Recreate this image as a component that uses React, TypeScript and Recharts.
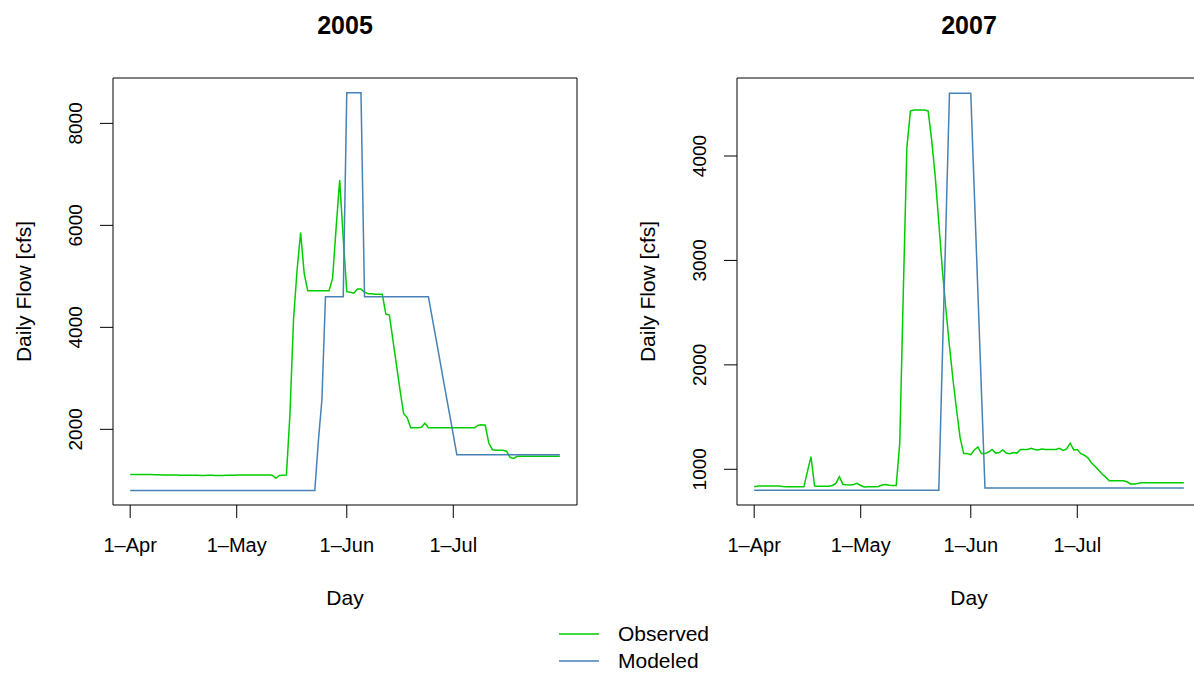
import React from "react";
import { LineChart, Line, XAxis, YAxis, ReferenceArea } from "recharts";

// day 0 = 1-Apr ... day 121 = 31-Jul
const TICK_DAYS = [0, 30, 61, 91];
const TICK_LABELS = ["1–Apr", "1–May", "1–Jun", "1–Jul"];

const OBS_2005 = [
  1115, 1115, 1115, 1115, 1115, 1115, 1115, 1110, 1110, 1105,
  1105, 1105, 1105, 1105, 1100, 1100, 1100, 1100, 1100, 1100,
  1095, 1095, 1100, 1100, 1095, 1095, 1095, 1100, 1100, 1100,
  1105, 1105, 1105, 1105, 1105, 1105, 1105, 1105, 1105, 1105,
  1100, 1040, 1095, 1100, 1105, 2300, 4150, 5120, 5860, 5060,
  4720, 4720, 4720, 4720, 4720, 4720, 4720, 4960, 5950, 6890,
  5750, 4700, 4690, 4670, 4750, 4750, 4690, 4660, 4660, 4650,
  4650, 4650, 4260, 4240, 3750, 3260, 2770, 2310, 2230, 2030,
  2030, 2030, 2040, 2120, 2030, 2030, 2030, 2030, 2030, 2030,
  2030, 2030, 2030, 2030, 2030, 2030, 2030, 2030, 2080, 2090,
  2080, 1730, 1600, 1590, 1590, 1590, 1570, 1450, 1430, 1470,
  1470, 1470, 1470, 1470, 1470, 1470, 1470, 1470, 1470, 1470,
  1470, 1470,
];

const MOD_2005 = [
  800, 800, 800, 800, 800, 800, 800, 800, 800, 800,
  800, 800, 800, 800, 800, 800, 800, 800, 800, 800,
  800, 800, 800, 800, 800, 800, 800, 800, 800, 800,
  800, 800, 800, 800, 800, 800, 800, 800, 800, 800,
  800, 800, 800, 800, 800, 800, 800, 800, 800, 800,
  800, 800, 800, 1770, 2580, 4600, 4600, 4600, 4600, 4600,
  4600, 8600, 8600, 8600, 8600, 8600, 4600, 4600, 4600, 4600,
  4600, 4600, 4600, 4600, 4600, 4600, 4600, 4600, 4600, 4600,
  4600, 4600, 4600, 4600, 4600, 4210, 3830, 3440, 3050, 2660,
  2280, 1890, 1500, 1500, 1500, 1500, 1500, 1500, 1500, 1500,
  1500, 1500, 1500, 1500, 1500, 1500, 1500, 1500, 1500, 1500,
  1500, 1500, 1500, 1500, 1500, 1500, 1500, 1500, 1500, 1500,
  1500, 1500,
];

const OBS_2007 = [
  833, 840, 840, 840, 840, 840, 840, 840, 835, 833,
  833, 833, 833, 833, 833, 980, 1120, 840, 838, 838,
  838, 838, 845, 865, 930, 855, 852, 850, 855, 865,
  845, 830, 833, 833, 833, 835, 850, 855, 848, 845,
  845, 1250, 2700, 4080, 4430, 4440, 4440, 4440, 4440, 4430,
  4150, 3800, 3360, 2910, 2530, 2180, 1855, 1570, 1300, 1150,
  1150, 1140, 1185, 1215, 1150, 1150, 1165, 1190, 1155, 1160,
  1185, 1155, 1150, 1160, 1155, 1190, 1190, 1190, 1200, 1190,
  1185, 1195, 1190, 1190, 1190, 1190, 1200, 1180, 1195, 1250,
  1185, 1190, 1150, 1135, 1110, 1060, 1030, 990, 955, 925,
  890, 890, 890, 890, 890, 880, 860, 860, 865, 870,
  870, 870, 870, 870, 872, 872, 872, 872, 872, 872,
  872, 872,
];

const MOD_2007 = [
  800, 800, 800, 800, 800, 800, 800, 800, 800, 800,
  800, 800, 800, 800, 800, 800, 800, 800, 800, 800,
  800, 800, 800, 800, 800, 800, 800, 800, 800, 800,
  800, 800, 800, 800, 800, 800, 800, 800, 800, 800,
  800, 800, 800, 800, 800, 800, 800, 800, 800, 800,
  800, 800, 800, 2070, 3330, 4600, 4600, 4600, 4600, 4600,
  4600, 4600, 3650, 2700, 1750, 820, 820, 820, 820, 820,
  820, 820, 820, 820, 820, 820, 820, 820, 820, 820,
  820, 820, 820, 820, 820, 820, 820, 820, 820, 820,
  820, 820, 820, 820, 820, 820, 820, 820, 820, 820,
  820, 820, 820, 820, 820, 820, 820, 820, 820, 820,
  820, 820, 820, 820, 820, 820, 820, 820, 820, 820,
  820, 820,
];

const TICKS_2005 = [2000, 4000, 6000, 8000];
const TICKS_2007 = [1000, 2000, 3000, 4000];

const X_DOMAIN = [-4.84, 125.84];
const OBS_COLOR = "#00CD00";
const MOD_COLOR = "#4682B4";
const FONT = "'Liberation Sans', Arial, Helvetica, sans-serif";

function YTick({ x, y, payload }: any) {
  return (
    <text
      x={x}
      y={y}
      dy={-18}
      transform={`rotate(-90, ${x}, ${y})`}
      textAnchor="middle"
      fill="#000"
      fontSize={19}
      fontFamily={FONT}
    >
      {payload.value}
    </text>
  );
}

function YLabel({ viewBox }: any) {
  const cx = 23;
  const cy = viewBox.y + viewBox.height / 2;
  return (
    <text
      x={cx}
      y={cy}
      dy="0.36em"
      transform={`rotate(-90, ${cx}, ${cy})`}
      textAnchor="middle"
      fill="#000"
      fontSize={21}
      fontFamily={FONT}
    >
      Daily Flow [cfs]
    </text>
  );
}

function Panel({ title, observed, modeled, yDomain, yTicks, left }: any) {
  const data = observed.map((v: number, i: number) => ({
    day: i,
    observed: v,
    modeled: modeled[i],
  }));
  return (
    <div style={{ position: "absolute", left, top: 0, width: 600, height: 674 }}>
      <div
        style={{
          position: "absolute",
          left: 113,
          width: 464,
          top: 13,
          textAlign: "center",
          fontSize: 25,
          lineHeight: "25px",
          fontWeight: "bold",
        }}
      >
        {title}
      </div>
      <LineChart
        width={600}
        height={674}
        data={data}
        margin={{ top: 78, right: 23, bottom: 49, left: 0 }}
      >
        <XAxis
          type="number"
          dataKey="day"
          domain={X_DOMAIN}
          ticks={TICK_DAYS}
          interval={0}
          tickFormatter={(d) => TICK_LABELS[TICK_DAYS.indexOf(d)]}
          height={120}
          axisLine={false}
          tickLine={{ stroke: "#000" }}
          tickSize={13}
          tickMargin={20}
          tick={{ fill: "#000", fontSize: 20, fontFamily: FONT }}
          label={{
            value: "Day",
            position: "insideBottom",
            offset: 20,
            fill: "#000",
            fontSize: 21,
            fontFamily: FONT,
          }}
        />
        <YAxis
          type="number"
          domain={yDomain}
          ticks={yTicks}
          interval={0}
          width={113}
          axisLine={false}
          tickLine={{ stroke: "#000" }}
          tickSize={13}
          tickMargin={0}
          tick={YTick}
          label={{ content: YLabel }}
        />
        <ReferenceArea
          x1={X_DOMAIN[0]}
          x2={X_DOMAIN[1]}
          y1={yDomain[0]}
          y2={yDomain[1]}
          fill="none"
          stroke="#000"
          strokeWidth={1}
          fillOpacity={0}
          ifOverflow="visible"
        />
        <Line
          type="linear"
          dataKey="observed"
          stroke={OBS_COLOR}
          strokeWidth={1.5}
          dot={false}
          isAnimationActive={false}
        />
        <Line
          type="linear"
          dataKey="modeled"
          stroke={MOD_COLOR}
          strokeWidth={1.5}
          dot={false}
          isAnimationActive={false}
        />
      </LineChart>
    </div>
  );
}

function LegendRow({ color, label }: { color: string; label: string }) {
  return (
    <div style={{ display: "flex", alignItems: "center", height: 27 }}>
      <svg width={40} height={4} style={{ display: "block" }}>
        <line x1={0} y1={2} x2={40} y2={2} stroke={color} strokeWidth={1.5} />
      </svg>
      <span style={{ marginLeft: 19, fontSize: 21, lineHeight: "27px" }}>{label}</span>
    </div>
  );
}

export default function App() {
  return (
    <div
      style={{
        position: "absolute",
        left: 0,
        top: 0,
        width: 1194,
        height: 674,
        overflow: "hidden",
        background: "#fff",
        fontFamily: FONT,
        color: "#000",
      }}
    >
      <Panel
        title="2005"
        observed={OBS_2005}
        modeled={MOD_2005}
        yDomain={[516, 8890]}
        yTicks={TICKS_2005}
        left={0}
      />
      <Panel
        title="2007"
        observed={OBS_2007}
        modeled={MOD_2007}
        yDomain={[658, 4747]}
        yTicks={TICKS_2007}
        left={624}
      />
      <div style={{ position: "absolute", left: 559, top: 620 }}>
        <LegendRow color={OBS_COLOR} label="Observed" />
        <LegendRow color={MOD_COLOR} label="Modeled" />
      </div>
    </div>
  );
}
